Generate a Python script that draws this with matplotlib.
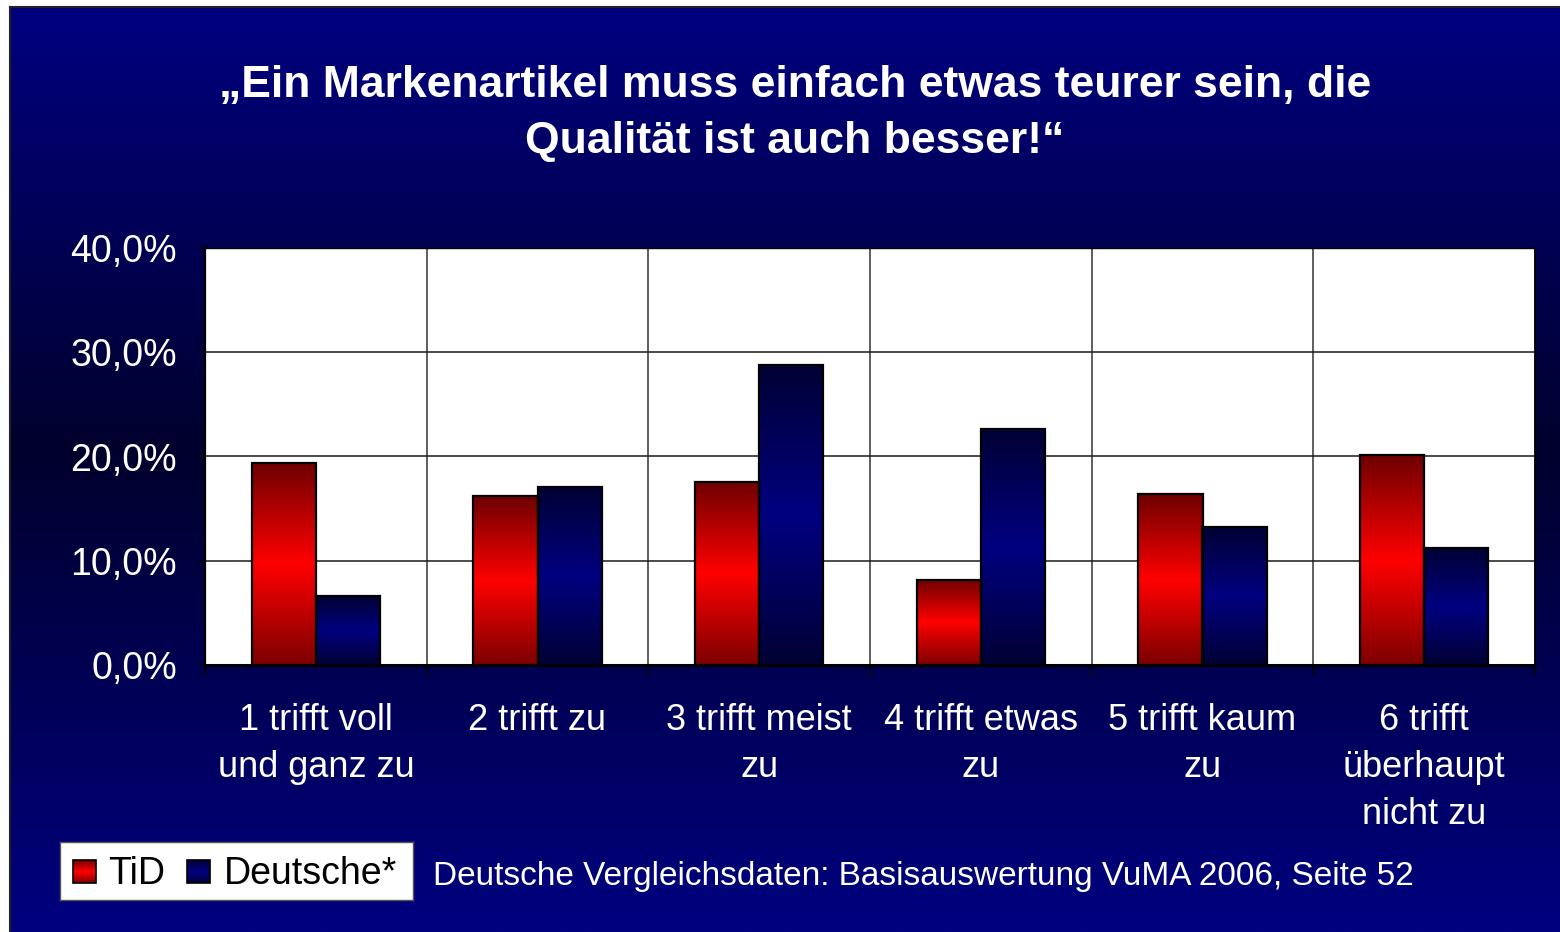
import numpy as np
import matplotlib
matplotlib.use("Agg")
import matplotlib.pyplot as plt
from matplotlib.patches import Rectangle

# ---------------- data ----------------
categories = ["1 trifft voll\nund ganz zu", "2 trifft zu", "3 trifft meist\nzu",
              "4 trifft etwas\nzu", "5 trifft kaum\nzu", "6 trifft\nüberhaupt\nnicht zu"]
tid = [19.4, 16.2, 17.6, 8.2, 16.4, 20.1]
deutsche = [6.6, 17.1, 28.8, 22.6, 13.2, 11.2]
series_names = ["TiD", "Deutsche*"]
yticks = [0, 10, 20, 30, 40]
ytick_labels = ["0,0%", "10,0%", "20,0%", "30,0%", "40,0%"]
title_lines = ["\u201eEin Markenartikel muss einfach etwas teurer sein, die",
               "Qualität ist auch besser!\u201c"]
footnote = "Deutsche Vergleichsdaten: Basisauswertung VuMA 2006, Seite 52"

plt.rcParams['font.family'] = ['Liberation Sans', 'DejaVu Sans']

W, H = 1560, 932
fig = plt.figure(figsize=(W / 100, H / 100), dpi=100, facecolor="white")


def fx(x):
    return x / W


def fy(y):
    return 1 - y / H


# ---------------- background panel gradient ----------------
bg = fig.add_axes([fx(10), 0, 1 - fx(10), fy(7)], zorder=-10)
n = 400
t = np.linspace(0, 1, n)
dark = 44
navy = 128
prof = np.where(t < 0.48, navy + (dark - navy) * (t / 0.48), dark + (navy - dark) * ((t - 0.48) / 0.52))
img = np.zeros((n, 2, 3))
img[:, :, 2] = (prof / 255.0)[:, None]
bg.imshow(img, aspect='auto', extent=(0, 1, 0, 1), interpolation='bilinear')
bg.set_xlim(0, 1)
bg.set_ylim(0, 1)
bg.set_xticks([])
bg.set_yticks([])
for s in ["top", "left"]:
    bg.spines[s].set_color("#222222")
    bg.spines[s].set_linewidth(1.5)
for s in ["right", "bottom"]:
    bg.spines[s].set_visible(False)


# ---------------- main axes ----------------
ax = fig.add_axes([fx(205), fy(665), fx(1535) - fx(205), fy(248) - fy(665)])
ax.set_facecolor("white")


def bar_gradient(bright, dark_top, dark_bot, n=200):
    tt = np.linspace(0, 1, n)
    g = np.zeros((n, 1, 3))
    for i, v in enumerate(tt):
        if v < 0.5:
            w = (0.5 - v) / 0.5
            c = np.array(bright) * (1 - w) + np.array(dark_top) * w
        else:
            w = (v - 0.5) / 0.5
            c = np.array(bright) * (1 - w) + np.array(dark_bot) * w
        g[i, 0, :] = c / 255.0
    return g


red_grad = bar_gradient((255, 0, 0), (110, 0, 0), (125, 0, 0))
blue_grad = bar_gradient((0, 0, 128), (0, 0, 52), (0, 0, 52))

x = np.arange(len(categories))
bw = 0.29
for vals, off, grad in [(tid, -bw / 2, red_grad), (deutsche, bw / 2, blue_grad)]:
    bars = ax.bar(x + off, vals, width=bw, facecolor="none", edgecolor="black",
                  linewidth=1.6, zorder=4)
    for b in bars:
        x0, y0 = b.get_x(), b.get_y()
        im = ax.imshow(grad, extent=(x0, x0 + b.get_width(), y0, y0 + b.get_height()),
                       aspect='auto', zorder=3, interpolation='bilinear')
        im.set_clip_path(b)

ax.set_xlim(-0.5, len(categories) - 0.5)
ax.set_ylim(0, 40)
ax.set_aspect('auto')

ax.set_yticks(yticks)
ax.set_yticklabels(ytick_labels, color="white", fontsize=27)
ax.tick_params(axis='y', length=4, width=1.2, color="black", pad=16)

ax.set_xticks(x)
ax.set_xticklabels(categories, color="white", fontsize=26, linespacing=1.46)
ax.tick_params(axis='x', which='major', length=0, pad=27)
ax.set_xticks(np.arange(-0.5, len(categories)), minor=True)
ax.tick_params(axis='x', which='minor', length=8, width=1.2, color="black")

ax.yaxis.grid(True, color="#1a1a1a", linewidth=1.1, zorder=1)
ax.xaxis.grid(True, which='minor', color="#333333", linewidth=1.1, zorder=1)
ax.xaxis.grid(False, which='major')
ax.set_axisbelow(True)

ax.spines["bottom"].set_linewidth(2.2)
ax.spines["left"].set_linewidth(1.6)
ax.spines["top"].set_linewidth(1.0)
ax.spines["right"].set_linewidth(1.2)
for s in ax.spines.values():
    s.set_color("black")

# ---------------- title ----------------
fig.text(fx(795), fy(97), title_lines[0], color="white", fontsize=32, fontweight="bold",
         ha="center", va="baseline")
fig.text(fx(795), fy(153), title_lines[1], color="white", fontsize=32, fontweight="bold",
         ha="center", va="baseline")

# ---------------- legend ----------------
lg = fig.add_axes([fx(60), fy(900), fx(413) - fx(60), fy(842) - fy(900)])
lg.set_xlim(60, 413)
lg.set_ylim(900, 842)
lg.set_facecolor("white")
lg.set_xticks([])
lg.set_yticks([])
for s in lg.spines.values():
    s.set_color("#555555")
    s.set_linewidth(1.0)
sq_grads = [red_grad, blue_grad]
sq_x = [73, 187]
txt_x = [108, 224]
for name, g, sx, tx in zip(series_names, sq_grads, sq_x, txt_x):
    r = Rectangle((sx, 860), 23, 23, facecolor="none", edgecolor="black", linewidth=1.2, zorder=4)
    lg.add_patch(r)
    im = lg.imshow(g, extent=(sx, sx + 23, 883, 860), aspect='auto', zorder=3, interpolation='bilinear')
    lg.text(tx, 884, name, fontsize=27, color="black", va="baseline", ha="left")
lg.set_xlim(60, 413)
lg.set_ylim(900, 842)
lg.set_aspect('auto')

# ---------------- footnote ----------------
fig.text(fx(433), fy(885), footnote, color="white", fontsize=24, va="baseline", ha="left")

fig.savefig("out.png", dpi=100, facecolor="white")
